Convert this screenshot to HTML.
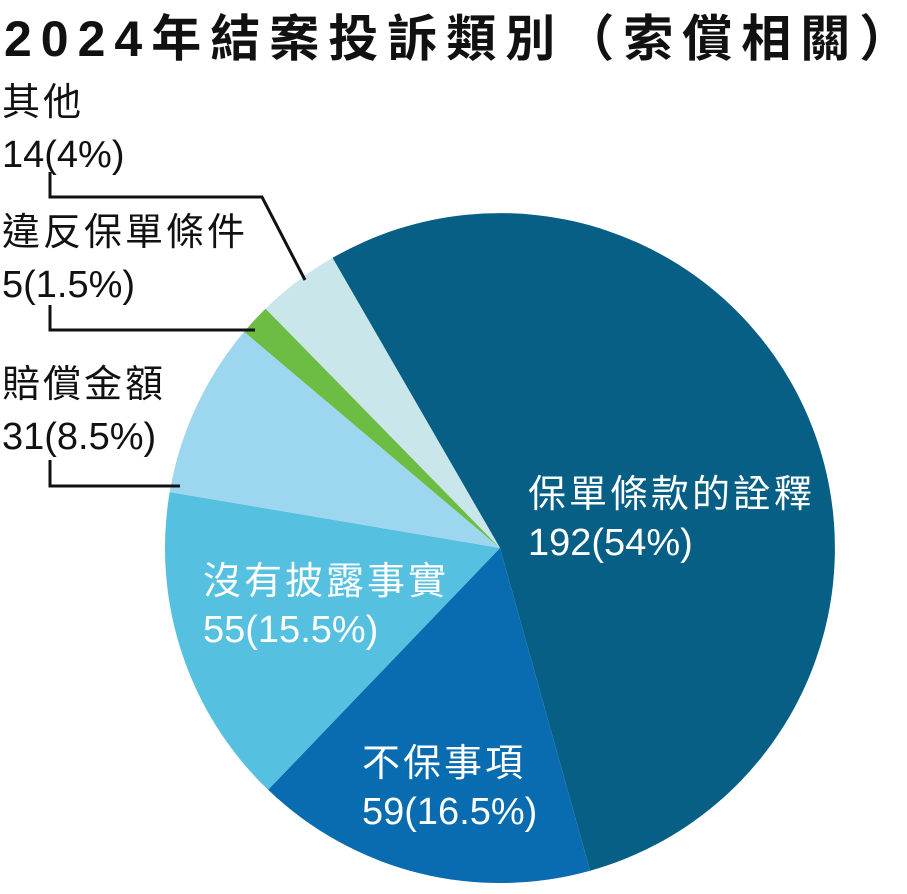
<!DOCTYPE html>
<html><head><meta charset="utf-8"><style>
html,body{margin:0;padding:0;background:#fff;}
svg text{font-family:"Liberation Sans","Noto Sans CJK TC",sans-serif;}
</style></head><body>
<svg width="907" height="889" viewBox="0 0 907 889" xmlns="http://www.w3.org/2000/svg">
<text x="4" y="56" font-size="50" font-weight="bold" letter-spacing="9" fill="#111">2024年結案投訴類別（索償相關）</text>
<path d="M500,548 L332.5,257.9 A335,335 0 1 1 590.1,870.7 Z" fill="#075f86"/>
<path d="M500,548 L590.1,870.7 A335,335 0 0 1 268.1,789.8 Z" fill="#0a6cb0"/>
<path d="M500,548 L268.1,789.8 A335,335 0 0 1 169.7,492.1 Z" fill="#55c0e0"/>
<path d="M500,548 L169.7,492.1 A335,335 0 0 1 244.1,331.8 Z" fill="#9dd6ef"/>
<path d="M500,548 L244.1,331.8 A335,335 0 0 1 265.6,308.6 Z" fill="#6dbd45"/>
<path d="M500,548 L265.6,308.6 A335,335 0 0 1 332.5,257.9 Z" fill="#c9e6ea"/>
<g stroke="#111" stroke-width="3" fill="none">
<polyline points="50,172 50,197 262,197 305,280"/>
<polyline points="50,305 50,330 255,330"/>
<polyline points="50,460 50,486 180,486"/>
</g>
<g font-size="38" fill="#111">
<text x="2" y="115" letter-spacing="3">其他</text>
<text x="2" y="167">14(4%)</text>
<text x="2" y="245" letter-spacing="3">違反保單條件</text>
<text x="2" y="297">5(1.5%)</text>
<text x="2" y="397" letter-spacing="3">賠償金額</text>
<text x="2" y="449">31(8.5%)</text>
</g>
<g font-size="38" fill="#fff">
<text x="528" y="507" letter-spacing="3">保單條款的詮釋</text>
<text x="528" y="555">192(54%)</text>
<text x="203" y="594" letter-spacing="3">沒有披露事實</text>
<text x="203" y="642">55(15.5%)</text>
<text x="362" y="776" letter-spacing="3">不保事項</text>
<text x="362" y="824">59(16.5%)</text>
</g>
</svg>
</body></html>
